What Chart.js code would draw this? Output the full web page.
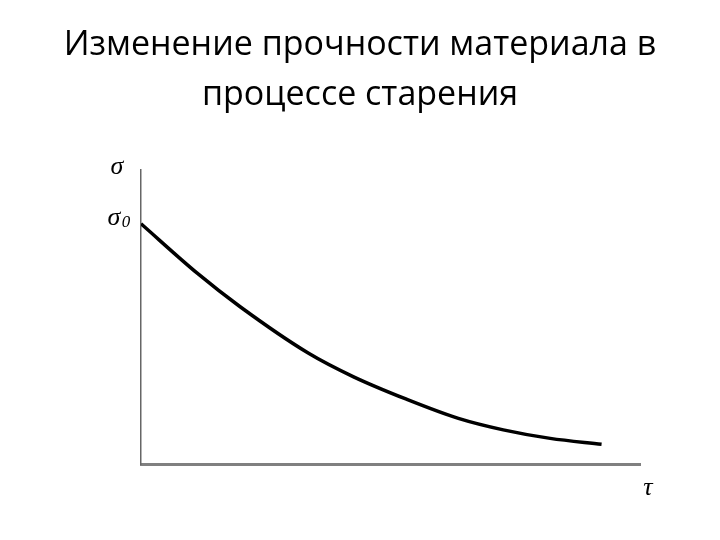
<!DOCTYPE html>
<html>
<head>
<meta charset="utf-8">
<script src="https://cdn.jsdelivr.net/npm/chart.js@4.4.1/dist/chart.umd.min.js"></script>
<style>
  html, body { margin: 0; background: #fff; }
  #wrap { width: 720px; height: 540px; }
</style>
</head>
<body>
<div id="wrap"><canvas id="agingChart"></canvas></div>
<script>
const TITLE_LINES = ['Изменение прочности материала в', 'процессе старения']
const TIME = [0, 11.2, 19.8, 33.5, 42.5, 53.2, 63.6, 72.6, 82, 92.3]
const STRENGTH = [81.6, 64.9, 53.5, 37.7, 29.7, 22, 15.5, 11.6, 8.7, 6.7]
const Y_LABEL = 'σ'
const Y0_LABEL = 'σ'
const Y0_SUB = '0'
const X_LABEL = 'τ'

const axisLabels = {
  id: 'axisLabels',
  afterDraw(chart) {
    const { ctx, chartArea, scales } = chart
    const y0 = scales.y.getPixelForValue(STRENGTH[0])
    ctx.save()
    ctx.fillStyle = '#000'
    ctx.textAlign = 'center'
    ctx.textBaseline = 'middle'
    ctx.font = 'italic 26px "Liberation Serif"'
    ctx.fillText(Y_LABEL, chartArea.left - 24, chartArea.top - 2)
    ctx.fillText(Y0_LABEL, chartArea.left - 27, y0 - 6)
    ctx.fillText(X_LABEL, chartArea.right + 8, chartArea.bottom + 24)
    ctx.font = 'italic 17px "Liberation Serif"'
    ctx.fillText(Y0_SUB, chartArea.left - 15, y0 - 1)
    ctx.restore()
  },
}

function fixSize(size, horizontal) {
  return (scale) => {
    if (horizontal) {
      scale.height = size
    } else {
      scale.width = size
    }
  }
}

function initializeChart() {
  const canvas = document.getElementById('agingChart')
  if (!canvas || typeof Chart === 'undefined') {
    return null
  }

  const points = TIME.map((t, i) => ({ x: t, y: STRENGTH[i] }))

  return new Chart(canvas, {
    type: 'line',
    data: {
      datasets: [
        {
          data: points,
          borderColor: '#000',
          borderWidth: 3.5,
          pointRadius: 0,
          cubicInterpolationMode: 'monotone',
          fill: false,
        },
      ],
    },
    options: {
      responsive: true,
      maintainAspectRatio: false,
      animation: false,
      layout: { padding: 0 },
      scales: {
        x: {
          type: 'linear',
          min: 0,
          max: 100,
          ticks: { display: false },
          grid: { display: false },
          border: { display: true, color: '#808080', width: 3 },
          afterFit: fixSize(76, true),
        },
        y: {
          min: 0,
          max: 100,
          ticks: { display: false },
          grid: { display: false },
          border: { display: true, color: '#666', width: 1.5 },
          afterFit: fixSize(141, false),
        },
        yRight: {
          position: 'right',
          min: 0,
          max: 100,
          ticks: { display: false },
          grid: { display: false },
          border: { display: false },
          afterFit: fixSize(80, false),
        },
      },
      plugins: {
        legend: { display: false },
        tooltip: { enabled: false },
        title: {
          display: true,
          text: TITLE_LINES,
          color: '#000',
          font: { family: 'Open Sans', size: 34, weight: 'normal', lineHeight: 1.45 },
          padding: { top: 21, bottom: 50 },
        },
      },
    },
    plugins: [axisLabels],
  })
}

globalThis.addEventListener('DOMContentLoaded', () => {
  initializeChart()
})
</script>
</body>
</html>
